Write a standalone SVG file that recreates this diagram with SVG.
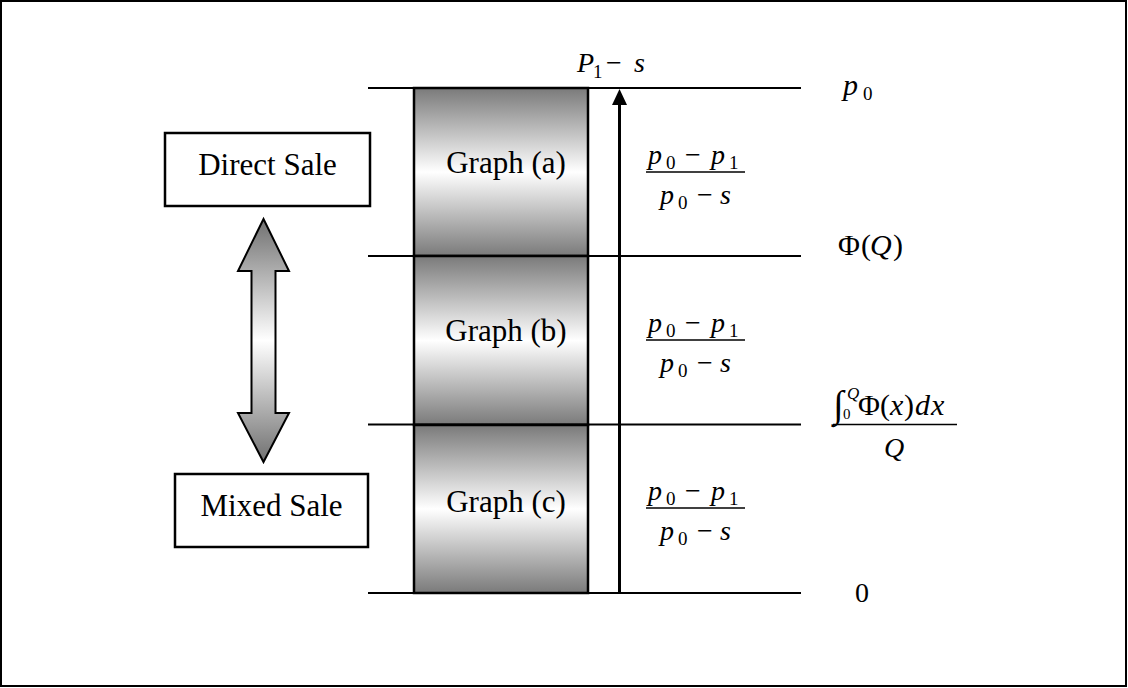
<svg xmlns="http://www.w3.org/2000/svg" width="1128" height="688" viewBox="0 0 1128 688">
<defs>
<linearGradient id="gv" x1="0" y1="0" x2="0" y2="1">
<stop offset="0" stop-color="#7a7a7a"/>
<stop offset="0.5" stop-color="#ffffff"/>
<stop offset="1" stop-color="#7a7a7a"/>
</linearGradient>
<linearGradient id="ga" x1="0" y1="0" x2="0" y2="1">
<stop offset="0" stop-color="#707070"/>
<stop offset="0.5" stop-color="#ffffff"/>
<stop offset="1" stop-color="#707070"/>
</linearGradient>
<style>
.t{font-family:"Liberation Serif","Times New Roman",serif;fill:#000}
.big{font-size:31px}
.m{font-size:28px}
.l{font-size:30px}
.s{font-size:19px}
.i{font-style:italic}
.box{fill:#fff;stroke:#000;stroke-width:2.5}
.gbox{fill:url(#gv);stroke:#000;stroke-width:2.5}
.ln{stroke:#000;stroke-width:2}
.bar{stroke:#000;stroke-width:1.5}
</style>
</defs>
<rect x="1" y="1" width="1125" height="685" fill="#fff" stroke="#000" stroke-width="2"/>

<g id="graph-a">
<rect class="gbox" x="414" y="88" width="174" height="168"/>
<text class="t big" x="506" y="173" text-anchor="middle">Graph (a)</text>
</g>
<g id="graph-b">
<rect class="gbox" x="414" y="256" width="174" height="169"/>
<text class="t big" x="506" y="341" text-anchor="middle">Graph (b)</text>
</g>
<g id="graph-c">
<rect class="gbox" x="414" y="425" width="174" height="168"/>
<text class="t big" x="506" y="512" text-anchor="middle">Graph (c)</text>
</g>

<g id="connectors">
<line class="ln" x1="368" y1="88" x2="801" y2="88"/>
<line class="ln" x1="368" y1="256" x2="801" y2="256"/>
<line class="ln" x1="368" y1="424.5" x2="801" y2="424.5"/>
<line class="ln" x1="368" y1="593" x2="801" y2="593"/>
<line x1="619.5" y1="593" x2="619.5" y2="103" stroke="#000" stroke-width="3"/>
<polygon points="619.5,89 612,105 627,105" fill="#000"/>
<path d="M263.5,219 L289,271 L275.5,271 L275.5,413 L289,413 L263.5,462 L238,413 L251.5,413 L251.5,271 L238,271 Z" fill="url(#ga)" stroke="#000" stroke-width="2"/>
</g>

<g id="direct-sale">
<rect class="box" x="165" y="133" width="205" height="73"/>
<text class="t big" x="267.5" y="175" text-anchor="middle">Direct Sale</text>
</g>
<g id="mixed-sale">
<rect class="box" x="175" y="474" width="193" height="73"/>
<text class="t big" x="271.5" y="516" text-anchor="middle">Mixed Sale</text>
</g>

<g id="label-p1s">
<text class="t m i" x="577" y="72">P</text>
<text class="t s" x="593" y="78">1</text>
<text class="t m" x="606" y="72">−</text>
<text class="t m i" x="634" y="72">s</text>
</g>

<g id="frac-a">
<text class="t m i" x="648" y="164">p</text><text class="t s" x="666" y="169">0</text>
<text class="t m" x="685" y="164">−</text>
<text class="t m i" x="711" y="164">p</text><text class="t s" x="729" y="169">1</text>
<line class="bar" x1="646" y1="172" x2="745" y2="172"/>
<text class="t m i" x="660" y="204">p</text><text class="t s" x="678" y="209">0</text>
<text class="t m" x="697" y="204">−</text>
<text class="t m i" x="720" y="204">s</text>
</g>
<g id="frac-b">
<text class="t m i" x="648" y="332">p</text><text class="t s" x="666" y="337">0</text>
<text class="t m" x="685" y="332">−</text>
<text class="t m i" x="711" y="332">p</text><text class="t s" x="729" y="337">1</text>
<line class="bar" x1="646" y1="340" x2="745" y2="340"/>
<text class="t m i" x="660" y="372">p</text><text class="t s" x="678" y="377">0</text>
<text class="t m" x="697" y="372">−</text>
<text class="t m i" x="720" y="372">s</text>
</g>
<g id="frac-c">
<text class="t m i" x="648" y="500">p</text><text class="t s" x="666" y="505">0</text>
<text class="t m" x="685" y="500">−</text>
<text class="t m i" x="711" y="500">p</text><text class="t s" x="729" y="505">1</text>
<line class="bar" x1="646" y1="508" x2="745" y2="508"/>
<text class="t m i" x="660" y="540">p</text><text class="t s" x="678" y="545">0</text>
<text class="t m" x="697" y="540">−</text>
<text class="t m i" x="720" y="540">s</text>
</g>

<g id="label-p0">
<text class="t l i" x="843" y="95">p</text>
<text class="t s" x="863" y="100">0</text>
</g>
<g id="label-phiQ">
<text class="t l" x="838" y="255">Φ</text>
<text class="t l" x="861" y="255">(</text>
<text class="t l i" x="870" y="255">Q</text>
<text class="t l" x="893" y="255">)</text>
</g>
<g id="label-integral">
<text class="t" x="833" y="417" font-size="38">∫</text>
<text class="t" x="843" y="419" font-size="15">0</text>
<text class="t i" x="847" y="399" font-size="17">Q</text>
<text class="t l" x="858" y="415">Φ</text>
<text class="t l" x="880" y="415">(</text>
<text class="t l i" x="890" y="415">x</text>
<text class="t l" x="904" y="415">)</text>
<text class="t l i" x="915" y="415">d</text>
<text class="t l i" x="931" y="415">x</text>
<line class="bar" x1="833" y1="424.5" x2="957" y2="424.5"/>
<text class="t m i" x="884" y="457">Q</text>
</g>
<g id="label-zero">
<text class="t m" x="855" y="602">0</text>
</g>
</svg>
